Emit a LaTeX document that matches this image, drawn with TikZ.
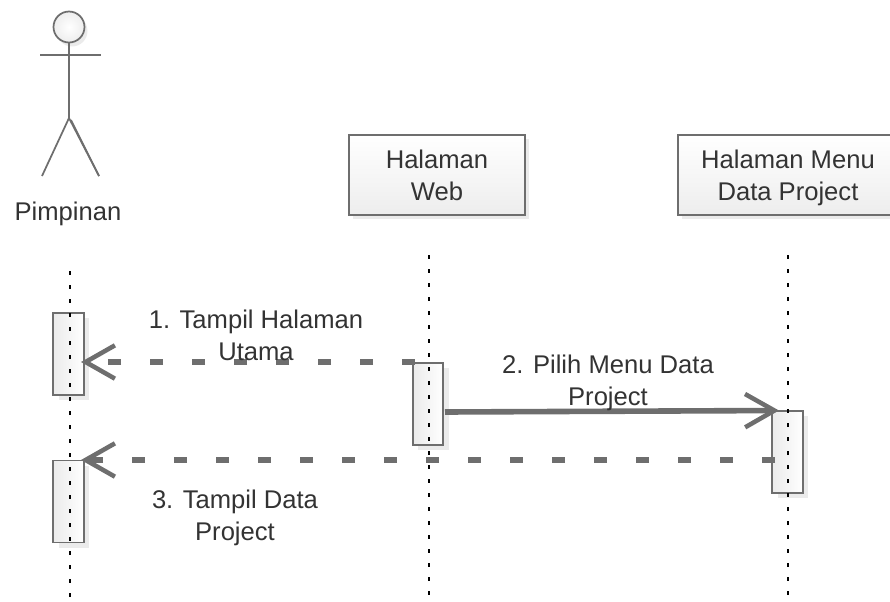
\documentclass[tikz,border=0pt]{standalone}
\usepackage{fontspec}
\setmainfont{Liberation Sans}
\usetikzlibrary{arrows.meta,calc,shadows}
\definecolor{linegray}{HTML}{6E6E6E}
\definecolor{textgray}{HTML}{333333}
\tikzset{
    pagebox/.style={draw=linegray,line width=1.3pt,minimum height=60pt,inner sep=0pt,
        align=center,top color=white,bottom color=black!7,text depth=-3.7pt,
        general shadow={fill=black!8,shadow xshift=3pt,shadow yshift=-3pt}},
    activation/.style={draw=linegray,line width=1.3pt,minimum width=23pt,minimum height=61.5pt,inner sep=0pt,
        left color=black!8,right color=white,
        general shadow={fill=black!8,shadow xshift=4pt,shadow yshift=-4pt}},
    lifeline/.style={black,line width=1.5pt,dash pattern=on 3pt off 7.5pt},
    message/.style={draw=linegray,line width=4.2pt,-{Straight Barb[length=22pt,width=25pt,line width=3.4pt]}},
    reply/.style={message,dash pattern=on 9.4pt off 22.1pt},
    label/.style={text=textgray,align=center,font=\fontsize{19.2}{24}\selectfont}
}
\begin{document}
\begin{tikzpicture}[x=0.75pt,y=-0.75pt]
\useasboundingbox (0,0) rectangle (890,601);
% actor
\begin{scope}[draw=linegray,line width=1.3pt]
    \fill[black!8] (72,31) circle (15.5);
    \draw[inner color=white,outer color=black!7] (69,27) circle (15.5);
    \draw (69,42.5) -- (69,118);
    \draw (40,55) -- (101,55);
    \draw (69,118) -- (42,176);
    \draw (69,118) -- (99,176);
    \draw (71,120) -- (99,176);
\end{scope}
\node[label] (pimpinan) at (68,214) {Pimpinan};
% objects
\node[pagebox,label,minimum width=132pt] (web) at (437,175) {Halaman\\Web};
\node[pagebox,label,minimum width=165pt] (menu) at (788,175) {Halaman Menu\\Data Project};
% activations
\node[activation] (actA) at (68.5,354) {};
\node[activation] (actB) at (68.5,501.5) {};
\node[activation] (actC) at (428,404) {};
\node[activation] (actD) at (787.5,452) {};
% lifelines
\coordinate (pimpinanTop) at (69.5,271);
\coordinate (pimpinanEnd) at (69.5,600);
\coordinate (webTop) at (429,255);
\coordinate (webEnd) at (429,600);
\coordinate (menuTop) at (788,255);
\coordinate (menuEnd) at (788,600);
\draw[lifeline] (pimpinanTop) -- (pimpinanEnd);
\draw[lifeline] (webTop) -- (webEnd);
\draw[lifeline] (menuTop) -- (menuEnd);
% messages
\coordinate (tipA) at (81,362);
\coordinate (tailA) at (415,362);
\coordinate (tipB) at (81,460);
\coordinate (tailB) at (775,460);
\coordinate (tailC) at (445,412);
\coordinate (tipC) at (779,410.5);
\draw[reply] (tailA) -- (tipA);
\draw[reply] (tailB) -- (tipB);
\draw[message] (tailC) -- (tipC);
% labels
\node[label] (msgA) at (256,335) {1. Tampil Halaman\\Utama};
\node[label] (msgB) at (608,383) {2. Pilih Menu Data\\Project};
\node[label] (msgC) at (235,518) {3. Tampil Data\\Project};
\end{tikzpicture}
\end{document}
